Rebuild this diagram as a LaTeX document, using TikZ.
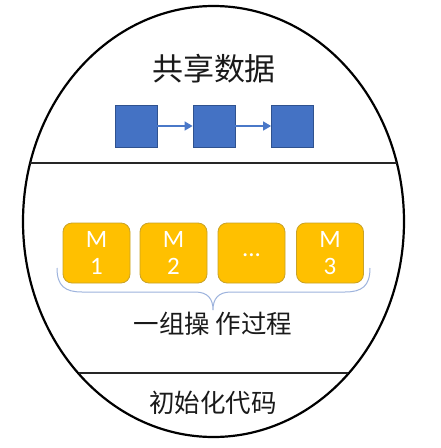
\documentclass[tikz,border=0pt]{standalone}
\usepackage{fontspec}
\setmainfont{Carlito}
\newfontfamily\cjk{Noto Sans CJK SC}
\usetikzlibrary{arrows.meta}
\definecolor{boxblue}{HTML}{4472C4}
\definecolor{boxblueedge}{HTML}{2F528F}
\definecolor{arrowblue}{HTML}{4A78C8}
\definecolor{mgold}{HTML}{FFC000}
\definecolor{mgoldedge}{HTML}{C9A227}
\definecolor{bracecol}{HTML}{9DB3DD}
\definecolor{txt}{HTML}{1A1A1A}
\tikzset{
  outline/.style={line width=2.2pt, draw=black},
  sep/.style={line width=2.2pt, draw=black!85},
  datasq/.style={draw=boxblueedge, line width=0.8pt, fill=boxblue, minimum width=42pt, minimum height=42pt, inner sep=0pt},
  link/.style={draw=arrowblue, line width=1.6pt, -{Triangle[length=8pt,width=9pt]}},
  mbox/.style={draw=mgoldedge, line width=0.8pt, fill=mgold, rounded corners=9pt, minimum width=67pt, minimum height=60pt, inner sep=0pt, text=white, font=\fontsize{25}{27}\selectfont, align=center},
  title/.style={text=txt, font=\cjk\fontsize{31}{33}\selectfont, inner sep=0pt},
  label/.style={text=txt, font=\cjk\fontsize{25.5}{27}\selectfont, inner sep=0pt},
  bracestyle/.style={draw=bracecol, line width=1pt}
}
\begin{document}
\begin{tikzpicture}[x=1pt, y=-1pt]
\useasboundingbox (0,0) rectangle (441,448);
\fill[white] (0,0) rectangle (441,448);
% outer ellipse
\draw[outline] (213.5,221.5) ellipse [x radius=190.5, y radius=215.5];
% separators
\draw[sep] (30,163) -- (397,163);
\draw[sep] (79,373) -- (348,373);
% shared data
\node[title] (shared) at (214,69) {共享数据};
\node[datasq] (d1) at (136,126) {};
\node[datasq] (d2) at (214,126) {};
\node[datasq] (d3) at (292.5,126) {};
\draw[link] (d1.east) -- (d2.west);
\draw[link] (d2.east) -- (d3.west);
% operations
\node[mbox] (m1) at (96.5,253) {M\\1};
\node[mbox] (m2) at (173.5,253) {M\\2};
\node[mbox] (m3) at (251.5,253) {\raisebox{-7pt}{...}};
\node[mbox] (m4) at (330,253) {M\\3};
% brace
\coordinate (bl) at (57,268);
\coordinate (br) at (370,268);
\coordinate (btip) at (213,310);
\draw[bracestyle] (bl) .. controls (57,286) and (65,292) .. (82,292) -- (195,292) .. controls (208,292) and (213,299) .. (btip) .. controls (213,299) and (218,292) .. (231,292) -- (345,292) .. controls (362,292) and (370,286) .. (br);
\node[label] (ops) at (213,324) {一组操 作过程};
% init code
\node[label] (init) at (213,403) {初始化代码};
\end{tikzpicture}
\end{document}
